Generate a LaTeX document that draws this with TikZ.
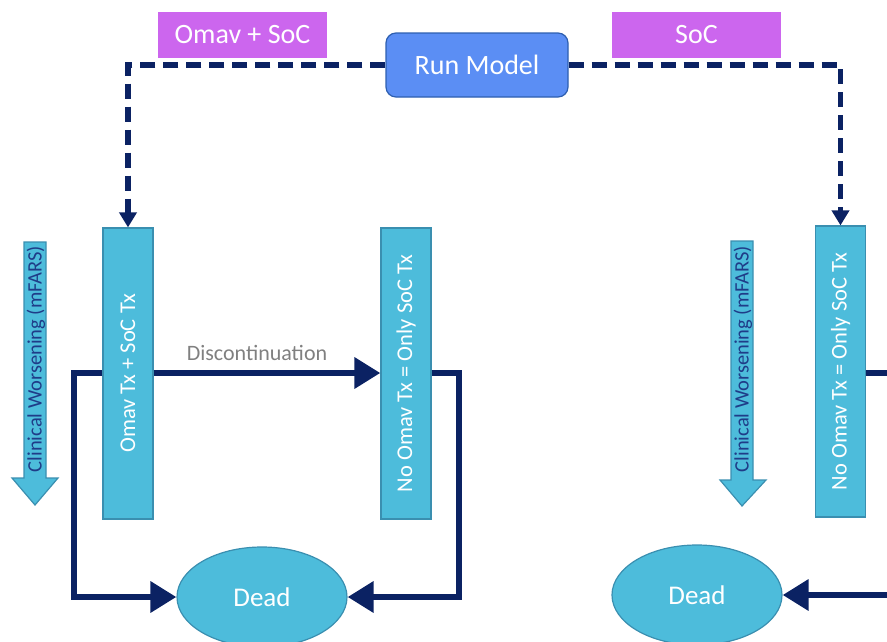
\documentclass[tikz,border=0pt]{standalone}
\usepackage{fontspec}
\setmainfont{Carlito}
\usetikzlibrary{arrows.meta,shapes.geometric}
\definecolor{navy}{HTML}{0B2263}
\definecolor{cyanfill}{HTML}{4DBCDB}
\definecolor{cyanedge}{HTML}{3A8FB0}
\definecolor{runfill}{HTML}{5B8EF4}
\definecolor{runedge}{HTML}{2E5FB0}
\definecolor{purp}{HTML}{CC66EE}
\definecolor{cwtext}{HTML}{1F3C88}
\tikzset{
  purpbox/.style={fill=purp, draw=none, text=white, font=\fontsize{28}{32}\selectfont, minimum width=169pt, minimum height=46pt, inner sep=0pt},
  runbox/.style={fill=runfill, draw=runedge, line width=1.2pt, rounded corners=10pt, text=white, font=\fontsize{28}{32}\selectfont, minimum width=182pt, minimum height=64pt, inner sep=0pt},
  statebox/.style={fill=cyanfill, draw=cyanedge, line width=1.2pt, minimum width=50pt, minimum height=291pt, inner sep=0pt},
  statetext/.style={text=white, rotate=90, font=\fontsize{22.5}{26}\selectfont},
  deadnode/.style={ellipse, fill=cyanfill, draw=cyanedge, line width=1.2pt, minimum width=170pt, minimum height=100pt, inner sep=0pt, text=white, font=\fontsize{27}{31}\selectfont},
  dashconn/.style={draw=navy, line width=5.5pt, dash pattern=on 15pt off 8pt, -{Triangle[width=17pt,length=15pt]}},
  thickconn/.style={draw=navy, line width=6.5pt, -{Triangle[width=30pt,length=26pt]}},
  thickline/.style={draw=navy, line width=6.5pt},
  cwarrow/.style={fill=cyanfill, draw=cyanedge, line width=1.2pt},
  cwtextstyle/.style={text=cwtext, rotate=90, font=\fontsize{20.5}{24}\selectfont, inner sep=0pt},
}
\begin{document}
\begin{tikzpicture}[x=1pt,y=-1pt]
\useasboundingbox (0,0) rectangle (887,641);
% top
\node[purpbox] (p1) at (242.5,35) {Omav + SoC};
\node[purpbox] (p2) at (696.5,35) {SoC};
\node[runbox] (run) at (477,65) {Run Model};
% state boxes
\node[statebox] (b1) at (128,373.5) {};
\node[statetext] (t1) at (b1.center) {Omav Tx + SoC Tx};
\node[statebox] (b2) at (406,373.5) {};
\node[statetext] (t2) at (b2.center) {No Omav Tx = Only SoC Tx};
\node[statebox] (b3) at (840.5,371.5) {};
\node[statetext] (t3) at (b3.center) {No Omav Tx = Only SoC Tx};
% dead
\node[deadnode] (d1) at (262,597) {Dead};
\node[deadnode] (d2) at (697,595) {Dead};
% dashed connectors
\draw[dashconn] (run.west) -- (b1.north |- run.west) -- (b1.north);
\draw[dashconn] (run.east) -- (b3.north |- run.east) -- (b3.north);
% thick connectors
\coordinate (lc) at (74,373);
\coordinate (rc) at (459,373);
\coordinate (fr1) at (887,373);
\coordinate (fr2) at (887,595);
\draw[thickconn] (b1.east |- lc) -- node[above=6pt, xshift=-10pt, text=gray, font=\fontsize{22}{26}\selectfont] (disc) {Discontinuation} (b2.west |- lc);
\draw[thickconn] (b1.west |- lc) -- (lc) -- (lc |- d1.west) -- (d1.west);
\draw[thickconn] (b2.east |- rc) -- (rc) -- (rc |- d1.east) -- (d1.east);
\draw[thickline] (b3.east |- fr1) -- (fr1);
\draw[thickconn] (fr2) -- (d2.east);
% clinical worsening arrows
\draw[cwarrow] (24,242) -- (46,242) -- (46,478) -- (58,478) -- (35,505) -- (12,478) -- (24,478) -- cycle;
\node[cwtextstyle] (cw1) at (36,359) {Clinical Worsening (mFARS)};
\draw[cwarrow] (731,241) -- (753,241) -- (753,480) -- (766,480) -- (742,506) -- (720,480) -- (731,480) -- cycle;
\node[cwtextstyle] (cw2) at (743,359) {Clinical Worsening (mFARS)};
\end{tikzpicture}
\end{document}
